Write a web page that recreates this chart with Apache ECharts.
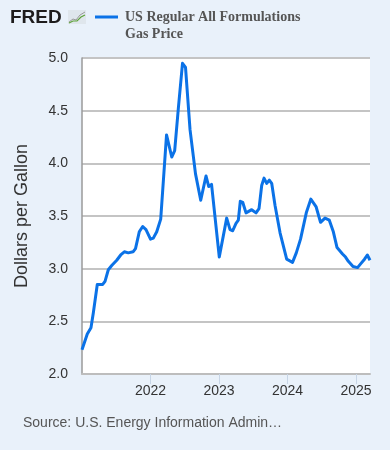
<!DOCTYPE html>
<html><head><meta charset="utf-8">
<script src="https://cdn.jsdelivr.net/npm/echarts@6/dist/echarts.min.js"></script>
<style>html,body{margin:0;padding:0;background:#e9f1fa;}#c{width:390px;height:450px;}</style>
</head><body><div id="c"></div>
<script>
const seriesName = 'US Regular All Formulations Gas Price';
const years = [2021.000,2021.077,2021.131,2021.165,2021.223,2021.302,2021.336,2021.384,2021.434,2021.507,
2021.565,2021.618,2021.676,2021.745,2021.781,2021.836,2021.886,2021.934,2022.000,2022.041,
2022.091,2022.149,2022.234,2022.310,2022.353,2022.406,2022.467,2022.511,2022.577,2022.657,
2022.733,2022.810,2022.850,2022.891,2023.004,2023.112,2023.161,2023.200,2023.248,2023.282,
2023.311,2023.346,2023.394,2023.477,2023.540,2023.584,2023.623,2023.657,2023.696,2023.734,
2023.769,2023.818,2023.891,2023.988,2024.073,2024.128,2024.190,2024.274,2024.340,2024.416,
2024.482,2024.547,2024.610,2024.669,2024.723,2024.803,2024.847,2024.888,2024.956,2025.022,
2025.073,2025.124,2025.165,2025.204];
const prices = [2.23,2.38,2.44,2.58,2.85,2.85,2.88,2.99,3.03,3.08,
3.13,3.16,3.15,3.16,3.19,3.35,3.40,3.37,3.28,3.29,
3.35,3.47,4.27,4.06,4.12,4.52,4.95,4.91,4.32,3.90,
3.65,3.88,3.78,3.80,3.11,3.48,3.37,3.36,3.43,3.46,
3.64,3.63,3.53,3.56,3.53,3.57,3.79,3.86,3.81,3.84,
3.81,3.60,3.34,3.09,3.06,3.15,3.28,3.53,3.66,3.59,
3.44,3.48,3.46,3.35,3.20,3.14,3.11,3.07,3.02,3.01,
3.05,3.09,3.13,3.08];
const yAxisTitle = 'Dollars per Gallon';
const sourceText = 'Source: U.S. Energy Information Admin\u2026';

const lineColor = '#0b72e7';
const chart = echarts.init(document.getElementById('c'), null, {renderer:'canvas'});
chart.setOption({
  backgroundColor: '#e9f1fa',
  animation: false,
  grid: {left: 82, right: 20, top: 58, bottom: 76, show: true, backgroundColor: '#ffffff', borderWidth: 0},
  xAxis: {
    type: 'value', min: 2021, max: years[years.length-1], interval: 1,
    axisLine: {show: true, lineStyle: {color: '#bdbdbd', width: 2}},
    axisTick: {show: true, length: 10, lineStyle: {color: '#c7d5e6', width: 1}},
    axisLabel: {showMinLabel: false, showMaxLabel: false, color: '#333', fontSize: 14, fontFamily: 'Liberation Sans, Arial', margin: 10,
      formatter: v => String(Math.round(v))},
    splitLine: {show: false}
  },
  yAxis: {
    type: 'value', min: 2, max: 5, interval: 0.5,
    name: yAxisTitle, nameLocation: 'middle', nameGap: 51, nameRotate: 90,
    nameTextStyle: {color: '#333', fontSize: 18, fontFamily: 'Liberation Sans, Arial'},
    axisLine: {show: true, lineStyle: {color: '#9a9a9a', width: 1.5}},
    axisTick: {show: false},
    axisLabel: {color: '#333', fontSize: 14, fontFamily: 'Liberation Sans, Arial', margin: 14, formatter: v => v.toFixed(1)},
    splitLine: {show: true, lineStyle: {color: '#c4c4c4', width: 2}}
  },
  series: [{
    name: seriesName, type: 'line', showSymbol: false, symbol: 'none',
    data: years.map((y, i) => [y, prices[i]]),
    lineStyle: {color: lineColor, width: 3, join: 'round'},
    itemStyle: {color: lineColor}
  }],
  graphic: [
    {type: 'text', left: 10, top: 8, style: {text: 'FRED', font: 'bold 19px "Liberation Sans", Arial', fill: '#1e1c1c'}},
    {type: 'rect', shape: {x: 68, y: 10, width: 18, height: 14}, style: {fill: '#dfe6ec'}},
    {type: 'polyline', shape: {points: [[69,22],[73,19],[76,20],[80,15],[85,12]]}, style: {stroke: '#9a9a9a', lineWidth: 1, fill: null}},
    {type: 'polyline', shape: {points: [[69,23],[73,21],[77,21],[81,17],[85,15]]}, style: {stroke: '#5ea33a', lineWidth: 1.2, fill: null}},
    {type: 'line', shape: {x1: 95, y1: 17, x2: 118, y2: 17}, style: {stroke: lineColor, lineWidth: 3}},
    {type: 'text', left: 125, top: 9, style: {text: 'US Regular All Formulations\nGas Price', font: 'bold 14px "Liberation Serif", "Times New Roman"', fill: '#555', lineHeight: 17}},
    {type: 'text', left: 23, top: 416, style: {text: sourceText, font: '14px "Liberation Sans", Arial', fill: '#555'}}
  ]
});
</script></body></html>
